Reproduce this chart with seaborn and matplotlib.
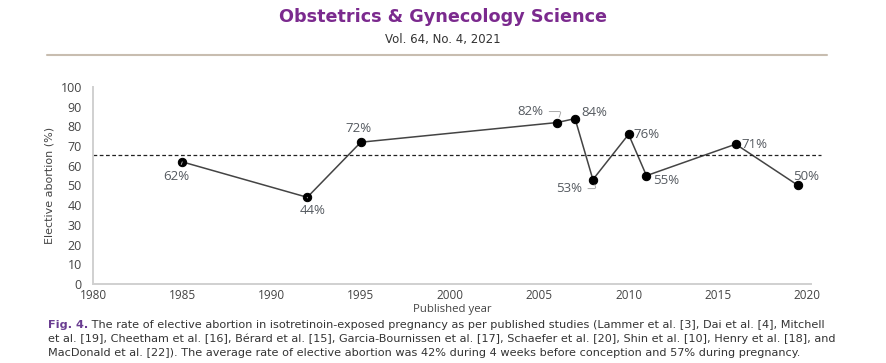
import numpy as np
import pandas as pd
import seaborn as sns
import matplotlib.pyplot as plt

# values
years = [1985, 1992, 1995, 2006, 2007, 2008, 2010, 2011, 2016, 2019.5]
rates = [62, 44, 72, 82, 84, 53, 76, 55, 71, 50]
labels = ['62%', '44%', '72%', '82%', '84%', '53%', '76%', '55%', '71%', '50%']
average_rate = 65.5
x_ticks = [1980, 1985, 1990, 1995, 2000, 2005, 2010, 2015, 2020]
y_ticks = list(range(0, 101, 10))

caption = [
    'The rate of elective abortion in isotretinoin-exposed pregnancy as per published studies '
    '(Lammer et al. [3], Dai et al. [4], Mitchell',
    'et al. [19], Cheetham et al. [16], Bérard et al. [15], Garcia-Bournissen et al. [17], '
    'Schaefer et al. [20], Shin et al. [10], Henry et al. [18], and',
    'MacDonald et al. [22]). The average rate of elective abortion was 42% during 4 weeks '
    'before conception and 57% during pregnancy.',
]

df = pd.DataFrame({'year': years, 'rate': rates})

sns.set_style('white')
plt.rcParams['font.family'] = ['Open Sans', 'DejaVu Sans']
narrow = ['Liberation Sans Narrow', 'DejaVu Sans']

fig = plt.figure(figsize=(8.86, 3.63), dpi=100)
ax = fig.add_axes([0.105, 0.218, 0.81, 0.542])
renderer = fig.canvas.get_renderer()


def fit(t, width_px):
    # shrink/grow font so the text spans the width seen in the reference
    w = t.get_window_extent(renderer).width
    t.set_fontsize(t.get_fontsize() * width_px / w)


sns.lineplot(data=df, x='year', y='rate', ax=ax, color='#444444', linewidth=1.1,
             marker='o', markersize=6, markerfacecolor='black', markeredgecolor='black')
ax.axhline(average_rate, xmin=0, xmax=1.015, color='#222222', linestyle=(0, (3, 2)),
           linewidth=0.9, clip_on=False)

# label offsets in pixels (text centre relative to the point)
offsets = [(-6, -15), (5, -13), (-2, 14), (-27, 11), (19, 6),
           (-24, -9), (18, 0), (20, -5), (19, 0), (8, 9)]
leaders = {'62%': 'arc3', '44%': 'arc3',
           '82%': 'angle,angleA=0,angleB=70,rad=2',
           '53%': 'angle,angleA=0,angleB=-70,rad=2'}
for x, y, lab, (dx, dy) in zip(years, rates, labels, offsets):
    arrow = None
    if lab in leaders:
        arrow = dict(arrowstyle='-', color='#aaaaaa', lw=0.7, shrinkA=2, shrinkB=4,
                     connectionstyle=leaders[lab])
    ax.annotate(lab, (x, y), xytext=(dx, dy), textcoords='offset pixels',
                ha='center', va='center', fontsize=9.5, color='#555a60',
                arrowprops=arrow)

ax.set_xlim(1980, 2020.2)
ax.set_ylim(0, 100)
ax.set_xticks(x_ticks)
ax.set_yticks(y_ticks)
ax.tick_params(axis='x', length=0, labelsize=8.5, labelcolor='#444444', pad=4)
ax.tick_params(axis='y', length=0, labelsize=9, labelcolor='#444444', pad=8)
ax.set_xlabel('Published year', fontsize=8.2, color='#444444', labelpad=1)
ax.set_ylabel('Elective abortion (%)', fontsize=8, color='#444444',
              family=narrow, labelpad=4)
for side in ['top', 'right']:
    ax.spines[side].set_visible(False)
for side in ['left', 'bottom']:
    ax.spines[side].set_color('#d0d0d0')
    ax.spines[side].set_linewidth(1.4)

# journal header
title = fig.text(0.5, 0.952, 'Obstetrics & Gynecology Science', ha='center', va='center',
                 fontsize=14.5, fontweight='bold', color='#7b2a8e', family=narrow)
fit(title, 328)
fig.text(0.5, 0.89, 'Vol. 64, No. 4, 2021', ha='center', va='center',
         fontsize=8.5, color='#333333', family=narrow)
fig.add_artist(plt.Line2D([0.053, 0.933], [0.848, 0.848], color='#c8bdb0', linewidth=1.5))

# caption
x0 = 48
fig_label = fig.text(x0 / 886, 0.105, 'Fig. 4.', ha='left', va='center', fontsize=8.5,
                     fontweight='bold', color='#6a3d91', family=narrow)
first = fig.text(0, 0.105, ' ' + caption[0], ha='left', va='center', fontsize=8.5,
                 color='#333333', family=narrow)
# total first-line width in the reference is about 778 px
lab_w = fig_label.get_window_extent(renderer).width
first_w = first.get_window_extent(renderer).width
size = 8.5 * 778 / (lab_w + first_w)
fig_label.set_fontsize(size)
first.set_fontsize(size)
lab_w = fig_label.get_window_extent(renderer).width
first.set_x((x0 + lab_w) / 886)
for i, line in enumerate(caption[1:]):
    fig.text(x0 / 886, 0.066 - 0.039 * i, line, ha='left', va='center', fontsize=size,
             color='#333333', family=narrow)

fig.savefig('out.png', dpi=100)
